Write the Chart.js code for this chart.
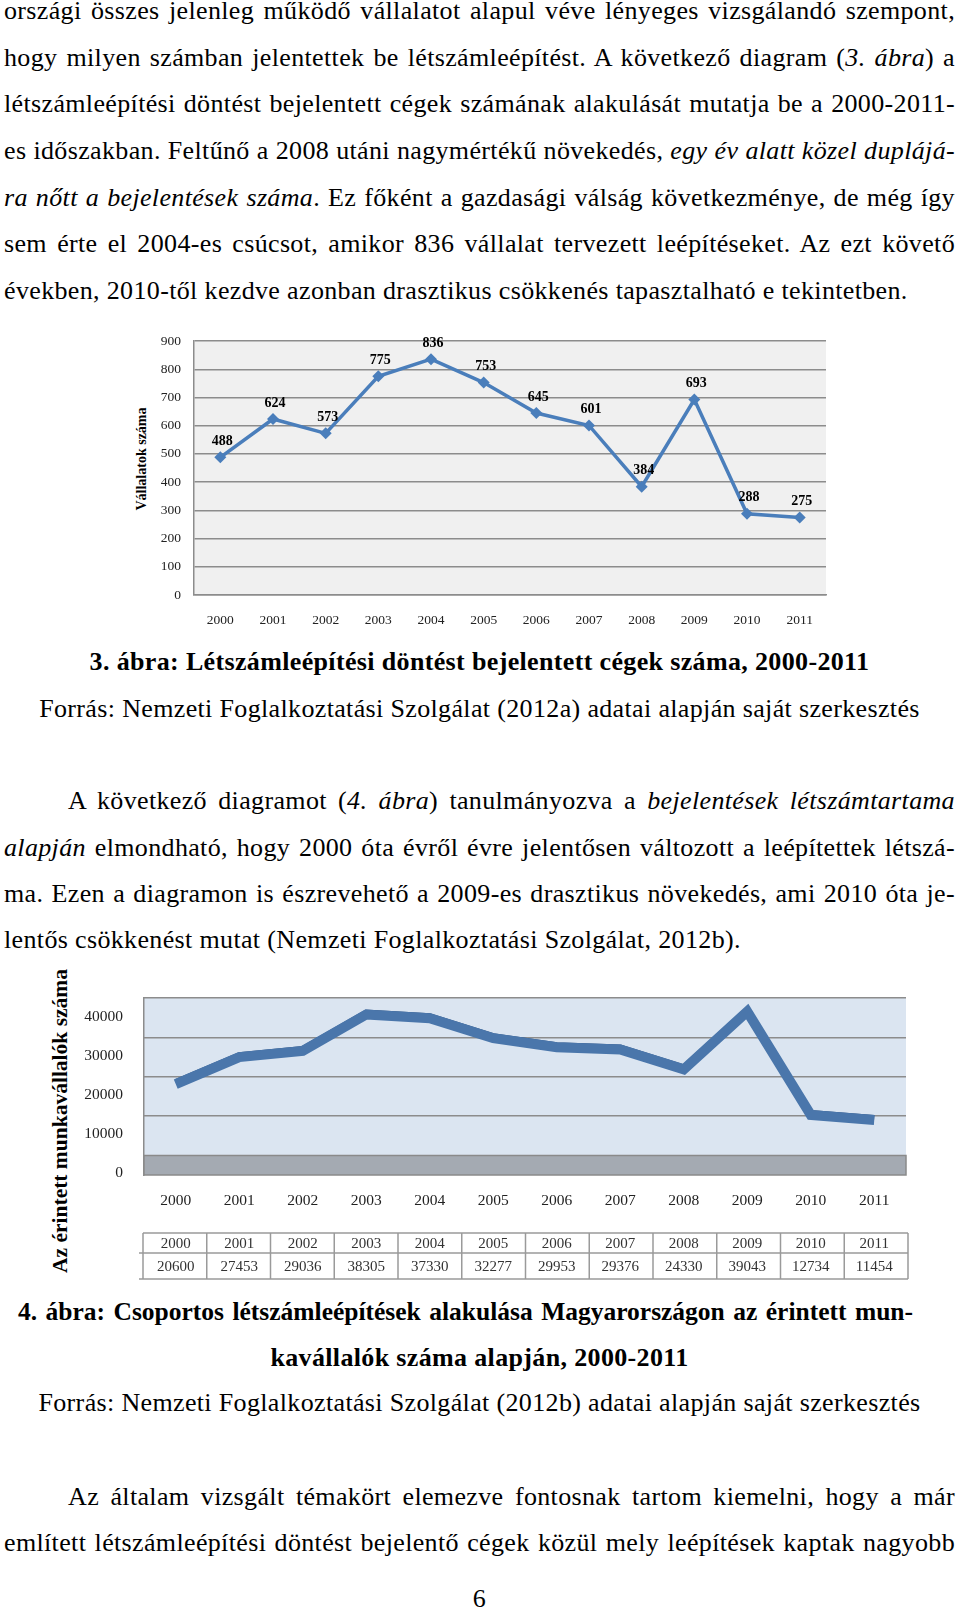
<!DOCTYPE html>
<html>
<head>
<meta charset="utf-8">
<script src="https://cdn.jsdelivr.net/npm/chart.js@4.4.1/dist/chart.umd.min.js"></script>
<style>
  body { margin: 0; background: #fff; width: 960px; height: 1610px; position: relative; overflow: hidden; }
  .ln { position: absolute; left: 4px; width: 951px; font: 26px 'Liberation Serif', 'Times New Roman', serif; letter-spacing: 0.35px; line-height: 30px; color: #000; white-space: nowrap; }
  .j { text-align: justify; text-align-last: justify; white-space: normal; }
  .c { text-align: center; }
  .b { font-weight: bold; }
  .tight { letter-spacing: 0; font-size: 25.5px; white-space: nowrap; }
  .vt { position: absolute; font: bold 14px 'Liberation Serif', serif; white-space: nowrap; transform: translate(-50%, -50%) rotate(-90deg); color: #000; }
  canvas { position: absolute; }
</style>
</head>
<body>
<div id="page"></div>

<div class="vt" style="left:142px; top:459px;">Vállalatok száma</div>
<canvas id="c1" width="720" height="305" style="left:120px; top:320px;"></canvas>

<div class="vt" style="left:60px; top:1121px; font-size:21.5px;">Az érintett munkavállalók száma</div>
<canvas id="c2" width="880" height="330" style="left:40px; top:960px;"></canvas>

<script>
// chart data
const years = ['2000','2001','2002','2003','2004','2005','2006','2007','2008','2009','2010','2011'];
const companies = [488, 624, 573, 775, 836, 753, 645, 601, 384, 693, 288, 275];
const workers = [20600, 27453, 29036, 38305, 37330, 32277, 29953, 29376, 24330, 39043, 12734, 11454];
const companyTicks = [0, 100, 200, 300, 400, 500, 600, 700, 800, 900];
const workerTicks = [0, 10000, 20000, 30000, 40000];

// page text: [html, baseline y, class, left, right]
const lines = [
  ['országi összes jelenleg működő vállalatot alapul véve lényeges vizsgálandó szempont,', 18, 'j'],
  ['hogy milyen számban jelentettek be létszámleépítést. A következő diagram (<i>3. ábra</i>) a', 64.5, 'j'],
  ['létszámleépítési döntést bejelentett cégek számának alakulását mutatja be a 2000-2011-', 111, 'j'],
  ['es időszakban. Feltűnő a 2008 utáni nagymértékű növekedés, <i>egy év alatt közel duplájá-</i>', 157.5, 'j'],
  ['<i>ra nőtt a bejelentések száma</i>. Ez főként a gazdasági válság következménye, de még így', 204.5, 'j'],
  ['sem érte el 2004-es csúcsot, amikor 836 vállalat tervezett leépítéseket. Az ezt követő', 251, 'j'],
  ['években, 2010-től kezdve azonban drasztikus csökkenés tapasztalható e tekintetben.', 297.5, ''],
  ['3. ábra: Létszámleépítési döntést bejelentett cégek száma, 2000-2011', 669, 'c b'],
  ['Forrás: Nemzeti Foglalkoztatási Szolgálat (2012a) adatai alapján saját szerkesztés', 716, 'c'],
  ['A következő diagramot (<i>4. ábra</i>) tanulmányozva a <i>bejelentések létszámtartama</i>', 807.5, 'j', 68],
  ['<i>alapján</i> elmondható, hogy 2000 óta évről évre jelentősen változott a leépítettek létszá-', 854.5, 'j'],
  ['ma. Ezen a diagramon is észrevehető a 2009-es drasztikus növekedés, ami 2010 óta je-', 900.5, 'j'],
  ['lentős csökkenést mutat (Nemzeti Foglalkoztatási Szolgálat, 2012b).', 946.5, ''],
  ['4. ábra: Csoportos létszámleépítések alakulása Magyarországon az érintett mun-', 1319, 'j b tight', 18, 913],
  ['kavállalók száma alapján, 2000-2011', 1365, 'c b'],
  ['Forrás: Nemzeti Foglalkoztatási Szolgálat (2012b) adatai alapján saját szerkesztés', 1410, 'c'],
  ['Az általam vizsgált témakört elemezve fontosnak tartom kiemelni, hogy a már', 1504, 'j', 68],
  ['említett létszámleépítési döntést bejelentő cégek közül mely leépítések kaptak nagyobb', 1550, 'j'],
  ['6', 1606, 'c']
];

const page = document.getElementById('page');
lines.forEach(l => {
  const d = document.createElement('div');
  d.className = 'ln ' + l[2];
  d.innerHTML = l[0];
  d.style.top = (l[1] - 21.8) + 'px';
  const left = l[3] || 4;
  const right = l[4] || 955;
  d.style.left = left + 'px';
  d.style.width = (right - left) + 'px';
  page.appendChild(d);
});

const serif = "'Liberation Serif', 'Times New Roman', serif";

// value labels above the points of chart 1
const pointLabels = {
  id: 'pointLabels',
  afterDatasetsDraw(chart) {
    const ctx = chart.ctx;
    const meta = chart.getDatasetMeta(0);
    ctx.save();
    ctx.font = 'bold 14px ' + serif;
    ctx.fillStyle = '#000';
    ctx.textAlign = 'center';
    ctx.textBaseline = 'middle';
    meta.data.forEach((pt, i) => {
      ctx.fillText(companies[i], pt.x + 2, pt.y - 16);
    });
    ctx.restore();
  }
};

const plotBg = {
  id: 'plotBg',
  beforeDraw(chart, args, opts) {
    const a = chart.chartArea;
    const ctx = chart.ctx;
    ctx.save();
    ctx.fillStyle = opts.color;
    ctx.fillRect(a.left, a.top, a.right - a.left, a.bottom - a.top);
    ctx.restore();
  }
};

new Chart(document.getElementById('c1'), {
  type: 'line',
  data: {
    labels: years,
    datasets: [{
      data: companies,
      borderColor: '#4a7ebb',
      backgroundColor: '#4a7ebb',
      borderWidth: 3.5,
      tension: 0,
      pointStyle: 'rectRot',
      pointRadius: 6,
      pointBorderWidth: 0
    }]
  },
  options: {
    responsive: false,
    animation: false,
    devicePixelRatio: 1,
    layout: { padding: { left: 0, top: 14, right: 14, bottom: 0 } },
    plugins: { legend: { display: false }, tooltip: { enabled: false }, plotBg: { color: '#f0f0f0' } },
    scales: {
      x: {
        offset: true,
        grid: { display: false },
        border: { color: '#8c8c8c', width: 1.5 },
        ticks: { font: { family: serif, size: 13.5 }, color: '#222', padding: 9, maxRotation: 0 },
        afterFit: s => { s.height = 30; }
      },
      y: {
        min: 0, max: 900,
        afterBuildTicks: s => { s.ticks = companyTicks.map(v => ({ value: v })); },
        grid: { color: '#8c8c8c', lineWidth: 1.5, drawTicks: false },
        border: { color: '#8c8c8c', width: 1.5 },
        ticks: { font: { family: serif, size: 13.5 }, color: '#222', padding: 13 },
        afterFit: s => { s.width = 74; }
      }
    }
  },
  plugins: [plotBg, pointLabels]
});

// chart 2: 3D-look wall, floor band and data table under the axis
const floorAndTable = {
  id: 'floorAndTable',
  beforeDatasetsDraw(chart) {
    const ctx = chart.ctx;
    const a = chart.chartArea;
    const yG = chart.scales.yG;
    const top = yG.getPixelForValue(0);
    ctx.save();
    ctx.fillStyle = '#a4aab2';
    ctx.fillRect(a.left, top, a.right - a.left, a.bottom - top);
    ctx.strokeStyle = '#8a8a8a';
    ctx.lineWidth = 1.5;
    ctx.strokeRect(a.left, top, a.right - a.left, a.bottom - top);
    ctx.restore();
  },
  afterDraw(chart) {
    const ctx = chart.ctx;
    const x = chart.scales.x;
    const left = x.left - 1, right = x.right + 2;
    const colW = (right - left) / years.length;
    const t = 273, m = 293, b = 319;
    ctx.save();
    ctx.strokeStyle = '#9a9a9a';
    ctx.lineWidth = 1.5;
    ctx.beginPath();
    ctx.moveTo(left, t); ctx.lineTo(right, t);
    ctx.moveTo(left - 4, m); ctx.lineTo(right, m);
    ctx.moveTo(left - 4, b); ctx.lineTo(right, b);
    for (let i = 0; i <= years.length; i++) {
      ctx.moveTo(left + i * colW, t); ctx.lineTo(left + i * colW, b);
    }
    ctx.stroke();
    ctx.font = '15px ' + serif;
    ctx.fillStyle = '#333';
    ctx.textAlign = 'center';
    ctx.textBaseline = 'middle';
    years.forEach((y, i) => {
      const cx = x.getPixelForValue(i);
      ctx.fillText(y, cx, (t + m) / 2 + 1);
      ctx.fillText(workers[i], cx, (m + b) / 2 + 1);
    });
    ctx.restore();
  }
};

const ribbonShift = {
  id: 'ribbonShift',
  beforeDatasetDraw(chart, args) {
    if (args.index === 1) { chart.ctx.save(); chart.ctx.translate(0, -2.5); }
  },
  afterDatasetDraw(chart, args) {
    if (args.index === 1) chart.ctx.restore();
  }
};

new Chart(document.getElementById('c2'), {
  type: 'line',
  data: {
    labels: years,
    datasets: [{
      data: workers,
      yAxisID: 'y',
      borderColor: '#4a76ab',
      borderWidth: 10,
      borderJoinStyle: 'miter',
      tension: 0,
      pointRadius: 0
    }, {
      data: workers,
      yAxisID: 'y',
      borderColor: '#2b4f7f',
      borderWidth: 5,
      borderJoinStyle: 'miter',
      tension: 0,
      pointRadius: 0
    }]
  },
  options: {
    responsive: false,
    animation: false,
    devicePixelRatio: 1,
    layout: { padding: { left: 0, top: 38, right: 14, bottom: 80 } },
    plugins: { legend: { display: false }, tooltip: { enabled: false }, plotBg: { color: '#dbe5f1' } },
    scales: {
      x: {
        offset: true,
        grid: { display: false },
        border: { display: false },
        ticks: { font: { family: serif, size: 15.5 }, color: '#222', padding: 9, maxRotation: 0 },
        afterFit: s => { s.height = 35; }
      },
      y: {
        display: false,
        min: -2545, max: 42494
      },
      yL: {
        position: 'left',
        min: -513, max: 44872,
        afterBuildTicks: s => { s.ticks = workerTicks.map(v => ({ value: v })); },
        grid: { display: false },
        border: { color: '#8c8c8c', width: 1.5 },
        ticks: { font: { family: serif, size: 15.5 }, color: '#222', padding: 13, callback: v => String(v) },
        afterFit: s => { s.width = 104; }
      },
      yG: {
        position: 'right',
        min: -4952, max: 40000,
        afterBuildTicks: s => { s.ticks = workerTicks.map(v => ({ value: v })); },
        grid: { color: '#8c8c8c', lineWidth: 1.5, drawTicks: false },
        border: { display: false },
        ticks: { display: false },
        afterFit: s => { s.width = 0; }
      }
    }
  },
  plugins: [plotBg, floorAndTable, ribbonShift]
});
</script>
</body>
</html>
